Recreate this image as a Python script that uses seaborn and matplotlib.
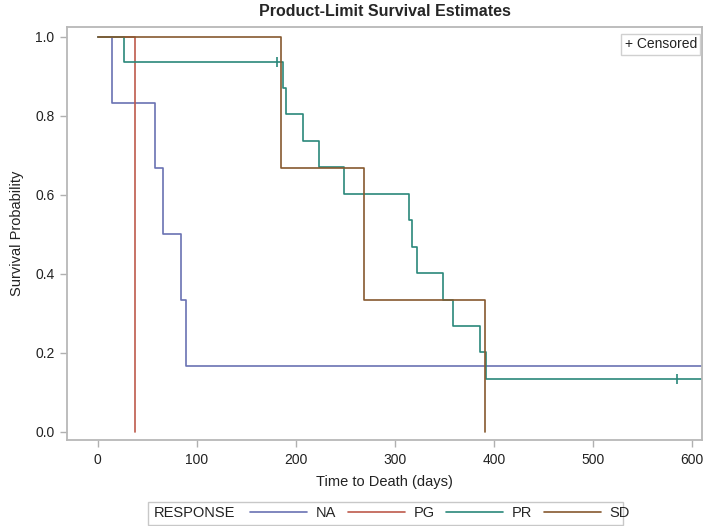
import matplotlib
matplotlib.use("Agg")
import matplotlib.pyplot as plt
import pandas as pd
import seaborn as sns
from matplotlib.lines import Line2D
from matplotlib.patches import Rectangle

# Kaplan-Meier step points (days, survival)
na_time = [0, 14, 58, 66, 84, 89, 620]
na_surv = [1.0, 0.833, 0.667, 0.5, 0.333, 0.167, 0.167]

pg_time = [0, 38]
pg_surv = [1.0, 0.0]

pr_time = [0, 27, 187, 190, 207, 223, 249, 314, 317, 322, 349, 359, 386, 392, 620]
pr_surv = [1.0, 0.9375, 0.8705, 0.8036, 0.7366, 0.6696, 0.6027, 0.5357,
           0.4688, 0.4018, 0.3348, 0.2679, 0.2009, 0.1339, 0.1339]

sd_time = [0, 185, 269, 391]
sd_surv = [1.0, 0.667, 0.333, 0.0]

# censored observations (only PR has any)
cens_time = [181, 585]
cens_surv = [0.9375, 0.1339]

groups = ["NA", "PG", "PR", "SD"]
colors = ["#6a72b3", "#bd5a4c", "#2a887a", "#86592f"]

frames = []
for g, t, s in zip(groups, [na_time, pg_time, pr_time, sd_time],
                   [na_surv, pg_surv, pr_surv, sd_surv]):
    frames.append(pd.DataFrame({"time": t, "surv": s, "RESPONSE": g}))
df = pd.concat(frames, ignore_index=True)

sns.set_style("white")
plt.rcParams["font.family"] = ["Liberation Sans", "DejaVu Sans"]

fig = plt.figure(figsize=(7.08, 5.26), dpi=100)
ax = fig.add_axes([67 / 708, 1 - 440 / 526, 635 / 708, 413 / 526])

palette = dict(zip(groups, colors))
sns.lineplot(data=df, x="time", y="surv", hue="RESPONSE", palette=palette,
             drawstyle="steps-post", estimator=None, sort=False,
             linewidth=1.2, legend=False, ax=ax)

# censor ticks
ax.plot(cens_time, cens_surv, ls="", marker="|", markersize=7,
        markeredgewidth=1.2, color=palette["PR"])

ax.set_xlim(-31, 610)
ax.set_ylim(-0.021, 1.025)
ax.set_xticks([0, 100, 200, 300, 400, 500, 600])
ax.set_yticks([0.0, 0.2, 0.4, 0.6, 0.8, 1.0])
ax.set_yticklabels(["0.0", "0.2", "0.4", "0.6", "0.8", "1.0"])

for sp in ax.spines.values():
    sp.set_color("#b8b8b8")
    sp.set_linewidth(1.3)
ax.tick_params(axis="both", direction="out", length=5, width=1,
               color="#b0b0b0", labelsize=10, labelcolor="#222222", pad=4)
ax.xaxis.set_ticks_position("bottom")
ax.yaxis.set_ticks_position("left")

ax.set_xlabel("Time to Death (days)", fontsize=10.5, color="#222222", labelpad=6)
ax.set_ylabel("Survival Probability", fontsize=10.5, color="#222222", labelpad=8)
fig.text(385 / 708, 1 - 11 / 526, "Product-Limit Survival Estimates",
         ha="center", va="center", fontsize=11.5, fontweight="bold")

# "+ Censored" box in upper right
ax.text(0.992, 0.975, "+ Censored", transform=ax.transAxes, ha="right", va="top",
        fontsize=10, color="#222222",
        bbox=dict(boxstyle="square,pad=0.25", fc="white", ec="#d0d0d0", lw=1))

# bottom legend with RESPONSE label inside the same box
leg_y = 1 - 513 / 526
fig.add_artist(Rectangle((148 / 708, 1 - 525 / 526), 475 / 708, 23 / 526,
                         transform=fig.transFigure, fill=False,
                         ec="#c8c8c8", lw=1))
fig.text(154 / 708, leg_y, "RESPONSE", ha="left", va="center", fontsize=10.5,
         color="#222222")
handles = [Line2D([], [], color=c, lw=1.2) for c in colors]
fig.legend(handles, groups, ncol=4, loc="center left",
           bbox_to_anchor=(250 / 708, leg_y), frameon=False, fontsize=10.5,
           handlelength=3.9, handletextpad=0.6, columnspacing=0.8,
           borderaxespad=0, borderpad=0)

fig.savefig("out.png", dpi=100)
